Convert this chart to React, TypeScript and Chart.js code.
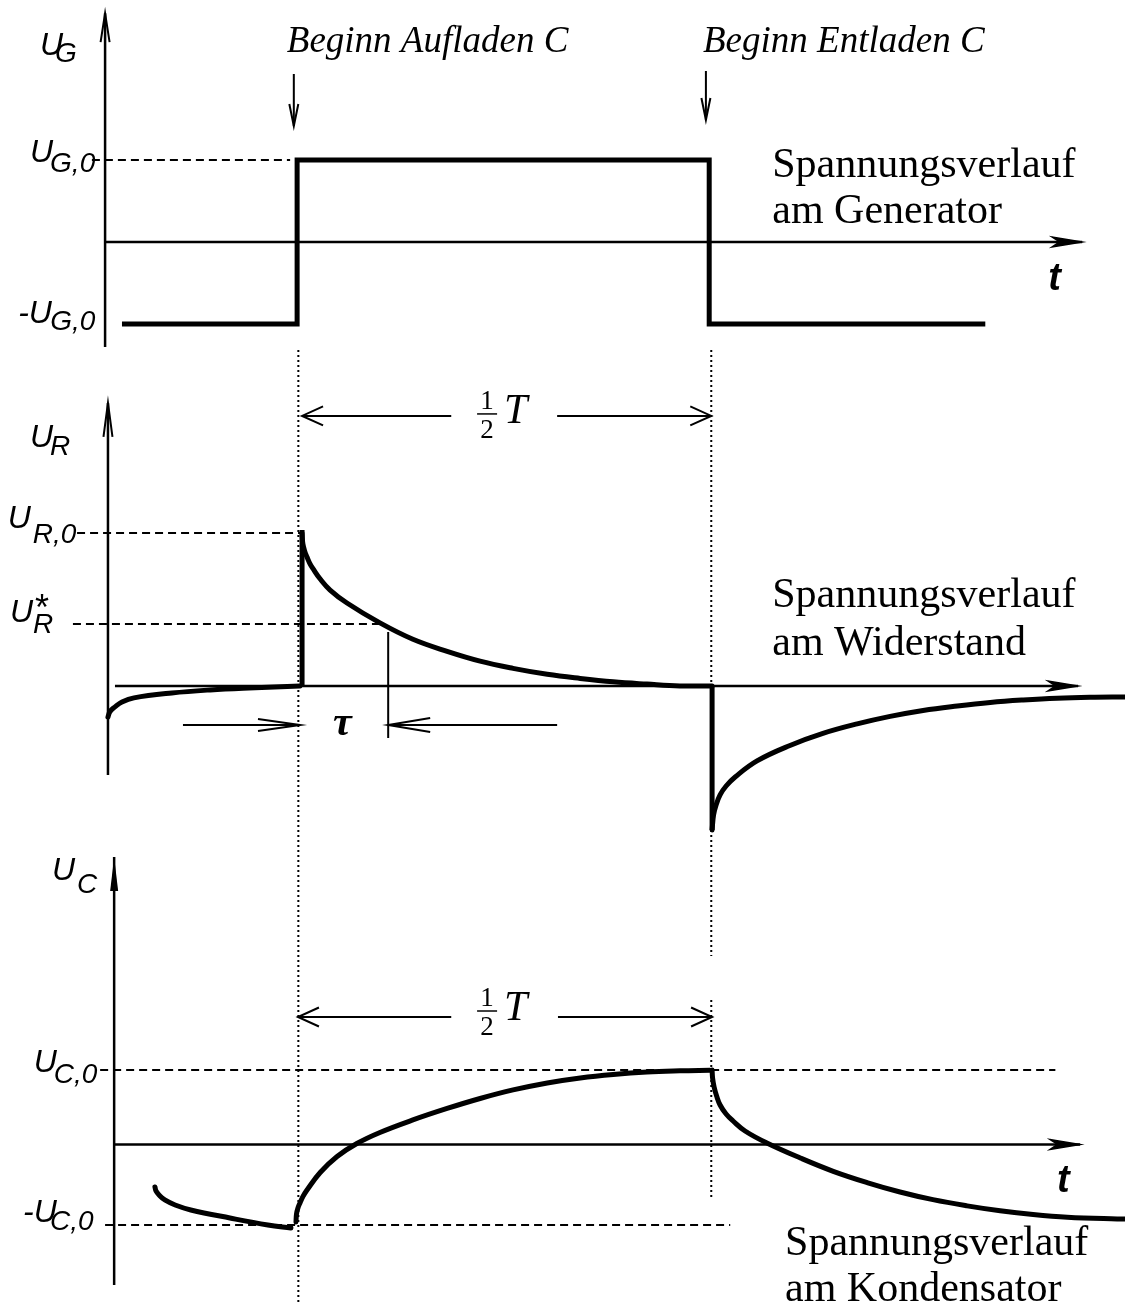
import React, { useEffect, useRef } from 'react';
import { Chart, registerables } from 'chart.js';

Chart.register(...registerables);

// ---------- Data (t in units of T/2: t = 0 Beginn Aufladen C, t = 1 Beginn Entladen C) ----------
// Generator (square wave), U in units of U_G,0
const genT = [-0.432, -0.007, -0.007, 0.993, 0.993, 1.663];
const genU = [-1, -1, 1, 1, -1, -1];
const levelsG = [1, -1]; // U_G,0 , -U_G,0

// Resistor, U in units of U_R,0
const rLeftT = [-0.466, -0.461, -0.449, -0.432, -0.403, -0.311, -0.218, -0.124, 0];
const rLeftU = [-0.203, -0.167, -0.137, -0.105, -0.078, -0.046, -0.026, -0.013, 0];
const rRiseT = [0.005, 0.005];
const rRiseU = [0, 1.02];
const rDecayT = [0.005, 0.007, 0.012, 0.017, 0.024, 0.032, 0.049, 0.073, 0.114, 0.194, 0.274, 0.357, 0.437, 0.517, 0.6, 0.68, 0.76, 0.842, 0.922, 1.0];
const rDecayU = [1.0, 0.928, 0.876, 0.843, 0.8, 0.765, 0.699, 0.627, 0.542, 0.412, 0.305, 0.226, 0.162, 0.115, 0.076, 0.049, 0.027, 0.012, 0.0, 0];
const rDropT = [1.0, 1.0];
const rDropU = [0, -0.941];
const rRecT = [1.0, 1.0036, 1.0097, 1.0194, 1.034, 1.056, 1.109, 1.189, 1.269, 1.352, 1.432, 1.512, 1.595, 1.675, 1.755, 1.837, 1.917, 2.002];
const rRecU = [-0.941, -0.843, -0.778, -0.712, -0.654, -0.595, -0.49, -0.389, -0.31, -0.248, -0.199, -0.16, -0.131, -0.108, -0.092, -0.08, -0.074, -0.072];
const levelsR = [1, 0.405]; // U_R,0 , U_R*
const tau = 0.214;

// Capacitor, U in units of U_C,0
const cLeftT = [-0.352, -0.3495, -0.342, -0.328, -0.303, -0.265, -0.17, -0.078, -0.022];
const cLeftU = [-0.57, -0.624, -0.678, -0.745, -0.812, -0.879, -0.987, -1.081, -1.121];
const cRiseT = [-0.0097, -0.0085, -0.005, 0.0, 0.0073, 0.017, 0.049, 0.09, 0.138, 0.194, 0.274, 0.357, 0.437, 0.517, 0.6, 0.68, 0.76, 0.842, 0.922, 0.995];
const cRiseU = [-1.04, -0.933, -0.852, -0.785, -0.697, -0.611, -0.376, -0.161, 0.013, 0.161, 0.329, 0.483, 0.617, 0.732, 0.826, 0.893, 0.94, 0.973, 0.989, 0.997];
const cFallT = [1.0, 1.0012, 1.0049, 1.011, 1.0194, 1.034, 1.051, 1.08, 1.133, 1.214, 1.294, 1.376, 1.456, 1.536, 1.619, 1.699, 1.779, 1.862, 1.983, 2.002];
const cFallU = [1.0, 0.893, 0.772, 0.651, 0.53, 0.409, 0.315, 0.181, 0.02, -0.181, -0.36, -0.511, -0.638, -0.741, -0.824, -0.89, -0.94, -0.976, -1.0, -1.0];
const levelsC = [1, -1.08]; // U_C,0 , -U_C,0

const switchT = [0, 1]; // Beginn Aufladen / Beginn Entladen

// ---------- helpers ----------
const W = 1125;
const T_MIN = -0.728;
const T_MAX = 2.002;

const P = (ts: number[], us: number[]) => ts.map((t, i) => ({ x: t, y: us[i] }));
const H = (t0: number, t1: number, u: number) => [{ x: t0, y: u }, { x: t1, y: u }];
const V = (t: number, u0: number, u1: number) => [{ x: t, y: u0 }, { x: t, y: u1 }];

const line = (data: any[], extra: any = {}) => ({
  data,
  showLine: true,
  borderColor: '#000',
  backgroundColor: '#000',
  borderWidth: 2.5,
  pointRadius: 0,
  pointHoverRadius: 0,
  tension: 0,
  fill: false,
  clip: false,
  ...extra,
});
const curve = (data: any[], extra: any = {}) =>
  line(data, { borderWidth: 5, tension: 0.4, capBezierPoints: false, borderCapStyle: 'round', ...extra });
const dashed = (data: any[]) => line(data, { borderWidth: 2, borderDash: [8, 5] });
const dotted = (data: any[]) => line(data, { borderWidth: 2, borderDash: [2, 3] });

const OPEN = (len: number, hw: number, lw = 2) => ({ style: 'open', len, hw, lw });
const FILL = (len: number, hw: number) => ({ style: 'fill', len, hw });
const NOTCH = (len: number, hw: number) => ({ style: 'notch', len, hw });

const SANS_U = 'italic 32px "Liberation Sans"';
const SANS_SUB = 'italic 28px "Liberation Sans"';
const SERIF_I = 'italic 37px "Liberation Serif"';
const SERIF = '42px "Liberation Serif"';
const T_FONT = 'italic bold 38px "Liberation Sans"';
const TAU_FONT = 'italic bold 42px "Liberation Serif"';

function drawHead(ctx: CanvasRenderingContext2D, ax: number, ay: number, bx: number, by: number, h: any) {
  const ang = Math.atan2(by - ay, bx - ax);
  const c = Math.cos(ang);
  const s = Math.sin(ang);
  const backX = bx - h.len * c;
  const backY = by - h.len * s;
  const p1 = [backX - h.hw * s, backY + h.hw * c];
  const p2 = [backX + h.hw * s, backY - h.hw * c];
  ctx.save();
  ctx.setLineDash([]);
  ctx.strokeStyle = '#000';
  ctx.fillStyle = '#000';
  ctx.beginPath();
  if (h.style === 'open') {
    ctx.lineWidth = h.lw;
    ctx.moveTo(p1[0], p1[1]);
    ctx.lineTo(bx, by);
    ctx.lineTo(p2[0], p2[1]);
    ctx.stroke();
  } else if (h.style === 'fill') {
    ctx.moveTo(bx, by);
    ctx.lineTo(p1[0], p1[1]);
    ctx.lineTo(p2[0], p2[1]);
    ctx.closePath();
    ctx.fill();
  } else {
    const n = h.len * 0.75;
    ctx.moveTo(bx, by);
    ctx.lineTo(p1[0], p1[1]);
    ctx.lineTo(bx - n * c, by - n * s);
    ctx.lineTo(p2[0], p2[1]);
    ctx.closePath();
    ctx.fill();
    ctx.lineWidth = 1.5;
    ctx.stroke();
  }
  ctx.restore();
}

type Part = { text: string; font: string; dx?: number; dy?: number };
type Label = { t: number; u: number; parts?: Part[]; half?: { dy: number } };

function makePlugin(labels: Label[]) {
  return {
    id: 'annotate',
    afterDatasetsDraw(chart: any) {
      const ctx: CanvasRenderingContext2D = chart.ctx;
      const xs = chart.scales.x;
      const ys = chart.scales.y;
      chart.data.datasets.forEach((ds: any, i: number) => {
        if (!ds.head) return;
        const pts = chart.getDatasetMeta(i).data;
        const n = pts.length;
        drawHead(ctx, pts[n - 2].x, pts[n - 2].y, pts[n - 1].x, pts[n - 1].y, ds.head);
      });
      ctx.save();
      ctx.fillStyle = '#000';
      ctx.strokeStyle = '#000';
      ctx.textBaseline = 'alphabetic';
      labels.forEach((l) => {
        const x = xs.getPixelForValue(l.t);
        const y = ys.getPixelForValue(l.u);
        if (l.half) {
          const y0 = y + l.half.dy;
          ctx.textAlign = 'center';
          ctx.font = '27px "Liberation Serif"';
          ctx.fillText('1', x, y0 - 7);
          ctx.fillText('2', x, y0 + 22);
          ctx.lineWidth = 1.5;
          ctx.beginPath();
          ctx.moveTo(x - 10, y0 - 2);
          ctx.lineTo(x + 10, y0 - 2);
          ctx.stroke();
          ctx.textAlign = 'left';
          ctx.font = 'italic 42px "Liberation Serif"';
          ctx.fillText('T', x + 17, y0 + 7);
          return;
        }
        ctx.textAlign = 'left';
        (l.parts || []).forEach((p) => {
          ctx.font = p.font;
          ctx.fillText(p.text, x + (p.dx || 0), y + (p.dy || 0));
        });
      });
      ctx.restore();
    },
  };
}

type PanelCfg = { top: number; height: number; yMin: number; yMax: number; datasets: any[]; labels: Label[] };

// ---------- Panel 1: Generator ----------
const panelG: PanelCfg = {
  top: 0,
  height: 350,
  yMin: -1.317,
  yMax: 2.951,
  datasets: [
    line(P(genT, genU), { borderWidth: 5, borderJoinStyle: 'miter' }),
    line(V(-0.473, -1.28, 2.79), { head: OPEN(29, 4.5) }),
    line(H(-0.473, 1.898, 0), { head: NOTCH(30, 5) }),
    dashed(H(-0.505, switchT[0] - 0.024, levelsG[0])),
    line(V(switchT[0] - 0.015, 2.049, 1.415), { borderWidth: 2, head: OPEN(22, 4.5) }),
    line(V(switchT[1] - 0.015, 2.085, 1.488), { borderWidth: 2, head: OPEN(22, 4.5) }),
  ],
  labels: [
    { t: -0.631, u: 2.28, parts: [{ text: 'U', font: SANS_U }, { text: 'G', font: SANS_SUB, dx: 15, dy: 7 }] },
    { t: -0.655, u: 0.976, parts: [{ text: 'U', font: SANS_U }, { text: 'G,0', font: SANS_SUB, dx: 20, dy: 10 }] },
    { t: -0.684, u: -0.988, parts: [{ text: '-U', font: SANS_U }, { text: 'G,0', font: SANS_SUB, dx: 32, dy: 7 }] },
    { t: -0.032, u: 2.317, parts: [{ text: 'Beginn Aufladen C', font: SERIF_I }] },
    { t: 0.978, u: 2.317, parts: [{ text: 'Beginn Entladen C', font: SERIF_I }] },
    { t: 1.146, u: 0.793, parts: [{ text: 'Spannungsverlauf', font: SERIF }, { text: 'am Generator', font: SERIF, dy: 46 }] },
    { t: 1.816, u: -0.585, parts: [{ text: 't', font: T_FONT }] },
  ],
};

// ---------- Panel 2: Widerstand ----------
const panelR: PanelCfg = {
  top: 350,
  height: 490,
  yMin: -1.007,
  yMax: 2.196,
  datasets: [
    dotted(V(switchT[0] - 0.004, 2.196, -1.007)),
    dotted(V(switchT[1] - 0.002, 2.196, -1.007)),
    line(V(-0.466, -0.582, 1.85), { head: OPEN(34, 4.5) }),
    line(H(-0.449, 1.888, 0), { head: NOTCH(30, 5) }),
    dashed(H(-0.541, switchT[0], levelsR[0])),
    dashed(H(-0.551, 0.201, levelsR[1])),
    line(V(tau, 0.353, -0.34), { borderWidth: 2 }),
    line(H(-0.284, switchT[0], -0.255), { borderWidth: 2, head: OPEN(42, 6) }),
    line(H(0.624, tau, -0.255), { borderWidth: 2, head: OPEN(42, 7) }),
    line(H(0.367, switchT[0] + 0.005, 1.765), { borderWidth: 2, head: OPEN(21, 9.5) }),
    line(H(0.624, switchT[1] - 0.002, 1.765), { borderWidth: 2, head: OPEN(21, 9.5) }),
    curve(P(rLeftT, rLeftU)),
    line(P(rRiseT, rRiseU), { borderWidth: 5 }),
    curve(P(rDecayT, rDecayU)),
    line(P(rDropT, rDropU), { borderWidth: 5 }),
    curve(P(rRecT, rRecU)),
  ],
  labels: [
    { t: -0.655, u: 1.562, parts: [{ text: 'U', font: SANS_U }, { text: 'R', font: SANS_SUB, dx: 20, dy: 8 }] },
    { t: -0.709, u: 1.033, parts: [{ text: 'U', font: SANS_U }, { text: 'R,0', font: SANS_SUB, dx: 25, dy: 15 }] },
    {
      t: -0.704,
      u: 0.418,
      parts: [
        { text: 'U', font: SANS_U },
        { text: 'R', font: SANS_SUB, dx: 23, dy: 11 },
        { text: '*', font: '36px "Liberation Sans"', dx: 25, dy: -2 },
      ],
    },
    { t: 0.08, u: -0.32, parts: [{ text: 'τ', font: TAU_FONT }] },
    { t: 0.454, u: 1.765, half: { dy: 0 } },
    { t: 1.146, u: 0.516, parts: [{ text: 'Spannungsverlauf', font: SERIF }, { text: 'am Widerstand', font: SERIF, dy: 48 }] },
  ],
};

// ---------- Panel 3: Kondensator ----------
const panelC: PanelCfg = {
  top: 840,
  height: 463,
  yMin: -2.128,
  yMax: 4.087,
  datasets: [
    dotted(V(switchT[0] - 0.004, 4.087, -2.128)),
    dotted(V(switchT[1] - 0.002, 4.087, 2.53)),
    dotted(V(switchT[1] - 0.002, 1.94, -0.718)),
    line(V(-0.451, -1.886, 3.859), { head: FILL(34, 4) }),
    line(H(-0.449, 1.893, 0), { head: NOTCH(30, 5) }),
    dashed(H(-0.485, 1.833, levelsC[0])),
    dashed(H(-0.473, 1.044, levelsC[1])),
    line(H(0.367, switchT[0] - 0.005, 1.711), { borderWidth: 2, head: OPEN(21, 9.5) }),
    line(H(0.626, switchT[1], 1.711), { borderWidth: 2, head: OPEN(21, 9.5) }),
    curve(P(cLeftT, cLeftU)),
    curve(P(cRiseT, cRiseU)),
    curve(P(cFallT, cFallU)),
  ],
  labels: [
    { t: -0.602, u: 3.55, parts: [{ text: 'U', font: SANS_U }, { text: 'C', font: SANS_SUB, dx: 25, dy: 13 }] },
    { t: -0.646, u: 0.973, parts: [{ text: 'U', font: SANS_U }, { text: 'C,0', font: SANS_SUB, dx: 20, dy: 11 }] },
    { t: -0.672, u: -1.04, parts: [{ text: '-U', font: SANS_U }, { text: 'C,0', font: SANS_SUB, dx: 27, dy: 8 }] },
    { t: 0.454, u: 1.711, half: { dy: -4 } },
    { t: 1.837, u: -0.638, parts: [{ text: 't', font: T_FONT }] },
    { t: 1.177, u: -1.483, parts: [{ text: 'Spannungsverlauf', font: SERIF }, { text: 'am Kondensator', font: SERIF, dy: 46 }] },
  ],
};

function Panel({ cfg }: { cfg: PanelCfg }) {
  const ref = useRef<HTMLCanvasElement>(null);
  useEffect(() => {
    const chart = new Chart(ref.current as HTMLCanvasElement, {
      type: 'line',
      data: { datasets: cfg.datasets },
      options: {
        animation: false,
        responsive: false,
        devicePixelRatio: 1,
        events: [],
        layout: { padding: 0 },
        scales: {
          x: { type: 'linear', min: T_MIN, max: T_MAX, display: false },
          y: { type: 'linear', min: cfg.yMin, max: cfg.yMax, display: false },
        },
        plugins: { legend: { display: false }, tooltip: { enabled: false } },
      } as any,
      plugins: [makePlugin(cfg.labels)],
    });
    return () => chart.destroy();
  }, [cfg]);
  return (
    <canvas
      ref={ref}
      width={W}
      height={cfg.height}
      style={{ position: 'absolute', left: 0, top: cfg.top, width: W, height: cfg.height }}
    />
  );
}

export default function App() {
  return (
    <div style={{ position: 'absolute', left: 0, top: 0, width: W, height: 1303, background: '#fff', overflow: 'hidden' }}>
      <Panel cfg={panelG} />
      <Panel cfg={panelR} />
      <Panel cfg={panelC} />
    </div>
  );
}
